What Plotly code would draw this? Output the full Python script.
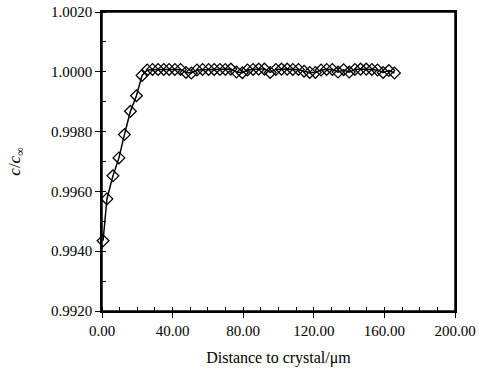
import plotly.graph_objects as go

distance_um = [0.6, 2.8, 6.2, 9.6, 12.7, 16.1, 19.5, 22.7, 25.6, 28.6, 31.8, 35.0,
               38.0, 41.3, 44.5, 47.6, 50.6, 53.8, 57.0, 60.4, 63.6, 66.8, 69.9,
               73.0, 76.2, 79.5, 82.4, 85.6, 88.8, 92.0, 95.3, 98.5, 101.7, 104.9,
               108.1, 111.3, 114.5, 117.7, 120.9, 124.1, 127.3, 130.5, 133.7, 136.9,
               140.1, 143.3, 146.5, 149.7, 152.9, 156.1, 159.3, 162.5, 165.7]
c_ratio = [0.99435, 0.99575, 0.99652, 0.99712, 0.99790, 0.99868, 0.99920, 0.99988,
           1.00006, 1.00008, 1.00008, 1.00008, 1.00008, 1.00008, 1.00008, 0.99998,
           0.99996, 1.00006, 1.00008, 1.00008, 1.00008, 1.00008, 1.00008, 1.00009,
           0.99999, 0.99997, 1.00006, 1.00008, 1.00009, 1.00009, 0.99998, 1.00008,
           1.00009, 1.00009, 1.00008, 1.00008, 1.00002, 0.99998, 0.99998, 1.00006,
           1.00008, 1.00008, 0.99999, 1.00007, 0.99999, 1.00008, 1.00009, 1.00009,
           1.00008, 1.00006, 0.99998, 1.00004, 0.99996]

x_ticks = [0, 40, 80, 120, 160, 200]
x_tick_labels = ["0.00", "40.00", "80.00", "120.00", "160.00", "200.00"]
y_ticks = [0.9920, 0.9940, 0.9960, 0.9980, 1.0000, 1.0020]
y_tick_labels = ["0.9920", "0.9940", "0.9960", "0.9980", "1.0000", "1.0020"]

font_family = "Liberation Serif, Times New Roman, serif"

fig = go.Figure(go.Scatter(
    x=distance_um, y=c_ratio, mode="lines+markers",
    line=dict(color="black", width=1.5),
    marker=dict(symbol="diamond-open", size=9, color="black", line=dict(width=1.3)),
    showlegend=False, cliponaxis=False,
))

fig.update_xaxes(
    range=[0, 200], tickvals=x_ticks, ticktext=x_tick_labels,
    showline=True, linecolor="black", linewidth=1.5, mirror=True,
    ticks="outside", ticklen=5, tickcolor="black", tickwidth=1.2,
    minor=dict(dtick=10, ticks="inside", ticklen=4, tickcolor="black", tickwidth=1),
    showgrid=False, zeroline=False, automargin=False,
    tickfont=dict(family=font_family, size=15, color="black"),
    title=dict(text="Distance to crystal/μm", font=dict(family=font_family, size=16, color="black"), standoff=14),
)
fig.update_yaxes(
    range=[0.9920, 1.0020], tickvals=y_ticks, ticktext=y_tick_labels,
    showline=True, linecolor="black", linewidth=1.5, mirror=True,
    ticks="outside", ticklen=5, tickcolor="black", tickwidth=1.2,
    minor=dict(dtick=0.001, ticks="inside", ticklen=4, tickcolor="black", tickwidth=1),
    showgrid=False, zeroline=False, automargin=False,
    tickfont=dict(family=font_family, size=15, color="black"),
    title=dict(text="<i>c</i>/<i>c</i><sub>∞</sub>", font=dict(family=font_family, size=17, color="black"), standoff=26),
)
fig.add_shape(type="rect", xref="paper", yref="paper", x0=0, x1=1, y0=0, y1=1,
              line=dict(color="black", width=1.5), layer="above")
fig.update_layout(
    width=479, height=380,
    margin=dict(l=102, r=24, t=12, b=69),
    plot_bgcolor="white", paper_bgcolor="white",
)
fig.write_html("out.html", config={"displayModeBar": False},
               post_script="document.body.style.margin='0';")
